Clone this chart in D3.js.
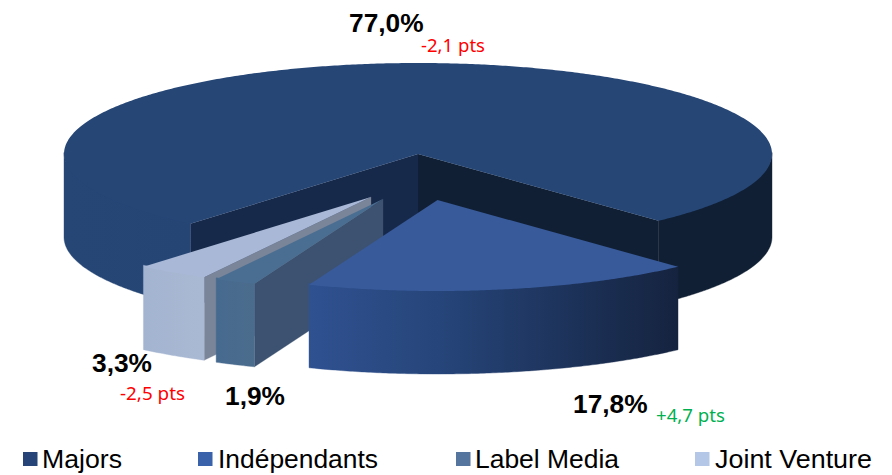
<!DOCTYPE html>
<html><head><meta charset="utf-8">
<script src="https://cdn.jsdelivr.net/npm/d3@7/dist/d3.min.js"></script>
<style>html,body{margin:0;padding:0;background:#fff}svg{display:block}</style>
</head><body><svg id="c" width="892" height="475"></svg>
<script>
// data
const categories = ["Majors","Indépendants","Label Media","Joint Venture"];
const shares = [77.0,17.8,1.9,3.3];
const shareLabels = ["77,0%","17,8%","1,9%","3,3%"];
const deltaLabels = ["-2,1 pts","+4,7 pts","","-2,5 pts"];
const deltaColors = ["#ff0000","#00b050",null,"#ff0000"];
// layout
const RX=354, RY=91, DEPTH=83;
const centers=[[418,154],[437.5,200],[383,199],[371,197]];
const topColors=["#264676","#385a9a","#4a6e92","#a8b8d6"];
const legendColors=["#264478","#3a62ab","#56759e","#b4c7e7"];
const wallColors=[["#101f33","#17294a"],[null,null],[null,"#3d5270"],[null,"#7a8599"]];
const frontStops=[
 [[0,"#264676"],[0.18,"#254575"],[0.8,"#101f33"],[1,"#101f33"]],
 [[0,"#2f5190"],[0.35,"#26457a"],[1,"#15233f"]],
 [[0,"#466a8f"],[1,"#4b6c8c"]],
 [[0,"#a3b4d1"],[1,"#aab9d3"]]
];
const labelPos=[[349,32],[573,413],[225,405],[92,372]];
const deltaPos=[[421,52],[656,422],[0,0],[120,400]];
const deltaW=[64,69,0,65];
const legendX=[23,198,456,695], legendTextX=[42,218,475,715], legendTextW=[80,160,144,157];

const svg=d3.select("#c");
const defs=svg.append("defs");
const deg=Math.PI/180;
const pie=d3.pie().sort(null).startAngle(220*deg).endAngle(580*deg);
const arcs=pie(shares);
const line=d3.line();
const proj=(i,a,dz=0)=>[centers[i][0]+RX*Math.cos(a),centers[i][1]+RY*Math.sin(a)+dz];
const sample=(a0,a1)=>{const n=Math.max(2,Math.ceil(Math.abs(a1-a0)/(0.5*deg)));return d3.range(n+1).map(k=>a0+(a1-a0)*k/n);};

function drawSlice(i){
  const a0=arcs[i].startAngle-Math.PI/2,a1=arcs[i].endAngle-Math.PI/2;
  const g=svg.append("g");
  const c=centers[i];
  // walls
  const wall=(a,col)=>{if(!col)return;
    g.append("path").attr("d",line([c,proj(i,a),proj(i,a,DEPTH),[c[0],c[1]+DEPTH]])+"Z").attr("fill",col).attr("stroke",col).attr("stroke-width",0.3);};
  wall(a1,wallColors[i][0]);
  wall(a0,wallColors[i][1]);
  // front rim: visible wherever the angle lies in the near half
  const pts=sample(a0,a1);
  let xs=pts.map(a=>proj(i,a)[0]);
  const xMin=i==0?centers[0][0]-RX:d3.min(xs),xMax=i==0?centers[0][0]+RX:d3.max(xs);
  const id="grad"+i;
  const lg=defs.append("linearGradient").attr("id",id).attr("gradientUnits","userSpaceOnUse")
    .attr("x1",xMin).attr("x2",xMax).attr("y1",0).attr("y2",0);
  frontStops[i].forEach(s=>lg.append("stop").attr("offset",s[0]).attr("stop-color",s[1]));
  const ranges=[];
  for(let k=0;k<=2;k++){
    const lo=Math.max(a0,2*k*Math.PI),hi=Math.min(a1,(2*k+1)*Math.PI);
    if(hi>lo)ranges.push([lo,hi]);
  }
  ranges.forEach(r=>{
    const s=sample(r[0],r[1]);
    // upper edge tucked under the top face so no light seam shows
    const ring=s.map(a=>proj(i,a,-1.5)).concat(s.slice().reverse().map(a=>proj(i,a,DEPTH)));
    g.append("path").attr("d",line(ring)+"Z").attr("fill",`url(#${id})`).attr("stroke",`url(#${id})`).attr("stroke-width",0.4);
  });
  // top
  g.append("path").attr("d",line([c].concat(pts.map(a=>proj(i,a))))+"Z").attr("fill",topColors[i]);
}
[0,3,2,1].forEach(drawSlice);

// value labels
shareLabels.forEach((t,i)=>svg.append("text").attr("x",labelPos[i][0]).attr("y",labelPos[i][1])
  .attr("font-family","Liberation Sans").attr("font-weight","bold").attr("font-size",26.3).attr("fill","#000").text(t));
deltaLabels.forEach((t,i)=>{if(t)svg.append("text").attr("x",deltaPos[i][0]).attr("y",deltaPos[i][1])
  .attr("font-family","Noto Sans").attr("font-size",18).attr("textLength",deltaW[i]).attr("lengthAdjust","spacingAndGlyphs").attr("fill",deltaColors[i]).text(t);});

// legend
categories.forEach((t,i)=>{
  svg.append("rect").attr("x",legendX[i]).attr("y",452).attr("width",14.5).attr("height",14).attr("fill",legendColors[i]);
  svg.append("text").attr("x",legendTextX[i]).attr("y",468).attr("font-family","Liberation Sans").attr("font-size",26)
    .attr("textLength",legendTextW[i]).attr("lengthAdjust","spacingAndGlyphs").attr("fill","#000").text(t);
});
</script></body></html>
